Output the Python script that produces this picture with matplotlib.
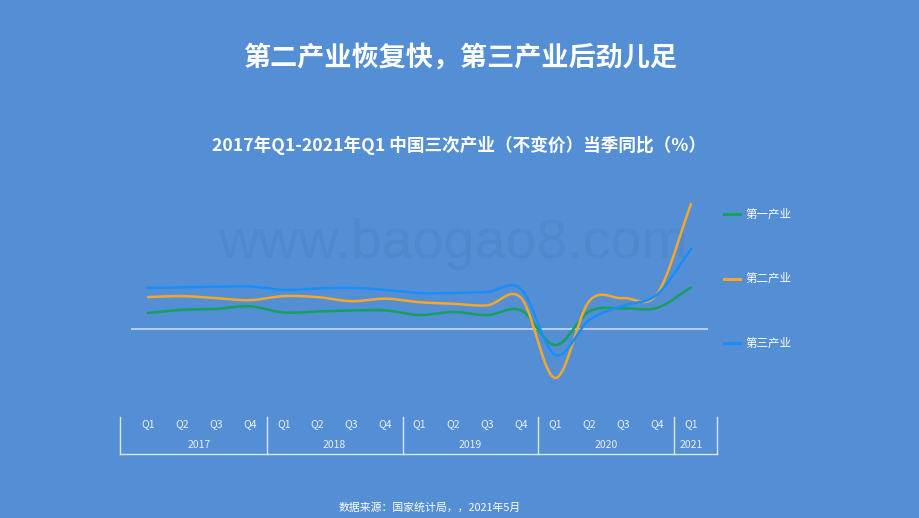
import numpy as np
import matplotlib
matplotlib.use("Agg")
import matplotlib.pyplot as plt

plt.rcParams['font.family'] = ['Noto Sans CJK SC', 'DejaVu Sans']

quarters = ["Q1", "Q2", "Q3", "Q4"] * 4 + ["Q1"]
years = ["2017", "2018", "2019", "2020", "2021"]
year_counts = [4, 4, 4, 4, 1]
series_names = ["第一产业", "第二产业", "第三产业"]
primary = [3.1, 3.7, 3.9, 4.4, 3.2, 3.4, 3.6, 3.6, 2.7, 3.3, 2.7, 3.6, -3.2, 3.4, 4.0, 4.1, 8.1]
secondary = [6.2, 6.4, 6.0, 5.6, 6.4, 6.2, 5.4, 5.9, 5.2, 4.9, 4.6, 6.0, -9.6, 5.4, 6.0, 6.8, 24.4]
tertiary = [8.0, 8.1, 8.2, 8.3, 7.6, 7.9, 8.0, 7.6, 7.0, 7.0, 7.2, 7.7, -5.1, 1.7, 4.5, 6.7, 15.6]
colors = ["#16A05C", "#F2A92B", "#1A8EF8"]
BG = "#548ED5"


def catmull_rom(y, n=24):
    y = np.asarray(y, float)
    x = np.arange(len(y), dtype=float)
    p = np.concatenate([[2 * y[0] - y[1]], y, [2 * y[-1] - y[-2]]])
    xs, ys = [], []
    for i in range(len(y) - 1):
        p0, p1, p2, p3 = p[i], p[i + 1], p[i + 2], p[i + 3]
        t = np.linspace(0, 1, n, endpoint=False)
        m1 = (p2 - p0) / 2
        m2 = (p3 - p1) / 2
        h00 = 2 * t**3 - 3 * t**2 + 1
        h10 = t**3 - 2 * t**2 + t
        h01 = -2 * t**3 + 3 * t**2
        h11 = t**3 - t**2
        xs.append(x[i] + t)
        ys.append(h00 * p1 + h10 * m1 + h01 * p2 + h11 * m2)
    xs.append([x[-1]])
    ys.append([y[-1]])
    return np.concatenate(xs), np.concatenate(ys)


W, H = 920, 518
fig = plt.figure(figsize=(W / 100, H / 100), dpi=100, facecolor=BG)

fig.text(460 / W, 1 - 58 / H, "第二产业恢复快，第三产业后劲儿足", ha="center", va="center",
         color="white", fontsize=19.5, fontweight="bold")
fig.text(459 / W, 1 - 145 / H, "2017年Q1-2021年Q1 中国三次产业（不变价）当季同比（%）", ha="center",
         va="center", color="white", fontsize=12.7, fontweight="bold")
fig.text(453 / W, 1 - 258 / H, "www.baogao8.com", ha="center", va="baseline",
         color="#5088CD", fontsize=40, family=["Liberation Sans", "DejaVu Sans"], zorder=0)

ax_left, ax_right, ax_top, ax_bot = 131, 708, 185, 400
ax = fig.add_axes([ax_left / W, 1 - ax_bot / H, (ax_right - ax_left) / W, (ax_bot - ax_top) / H])
ax.set_zorder(5)
ax.set_facecolor("none")
n = len(quarters)
ax.set_xlim(-0.5, n - 0.5)
ax.set_ylim(-13.9, 28.1)
for s in ax.spines.values():
    s.set_visible(False)
ax.set_xticks([])
ax.set_yticks([])
ax.axhline(0, color="#C9D9F0", lw=1.2, zorder=1)

for vals, c, name in zip([primary, secondary, tertiary], colors, series_names):
    xs, ys = catmull_rom(vals)
    ax.plot(xs, ys, color=c, lw=1.8, solid_capstyle="round", zorder=3, label=name)

# legend
for i, (c, name) in enumerate(zip(colors, series_names)):
    yy = 1 - (214 + 64.5 * i) / H
    fig.add_artist(plt.Line2D([724 / W, 740 / W], [yy, yy], color=c, lw=2.2))
    fig.text(745 / W, yy, name, ha="left", va="center", color="white", fontsize=8.3)

# category axis table
band = (ax_right - ax_left) / n
def fx(i):
    return (ax_left + band * (i + 0.5)) / W

for i, q in enumerate(quarters):
    fig.text(fx(i), 1 - 424 / H, q, ha="center", va="center", color="#EAF0FA", fontsize=7.5)
start = 0
sep_px = [120]
for y, cnt in zip(years, year_counts):
    mid = start + (cnt - 1) / 2
    fig.text(fx(mid), 1 - 445 / H, y, ha="center", va="center", color="#EAF0FA", fontsize=7.5)
    start += cnt
    sep_px.append(ax_left + band * start)
sep_px[-1] = 717
for px in sep_px:
    fig.add_artist(plt.Line2D([px / W, px / W], [1 - 417 / H, 1 - 454 / H], color="#DCE6F5", lw=1))
fig.add_artist(plt.Line2D([120 / W, 717 / W], [1 - 454 / H, 1 - 454 / H], color="#DCE6F5", lw=1))

fig.text(430 / W, 1 - 508 / H, "数据来源：国家统计局，，2021年5月", ha="center", va="center",
         color="white", fontsize=7.8)

fig.savefig("out.png", dpi=100, facecolor=BG)
